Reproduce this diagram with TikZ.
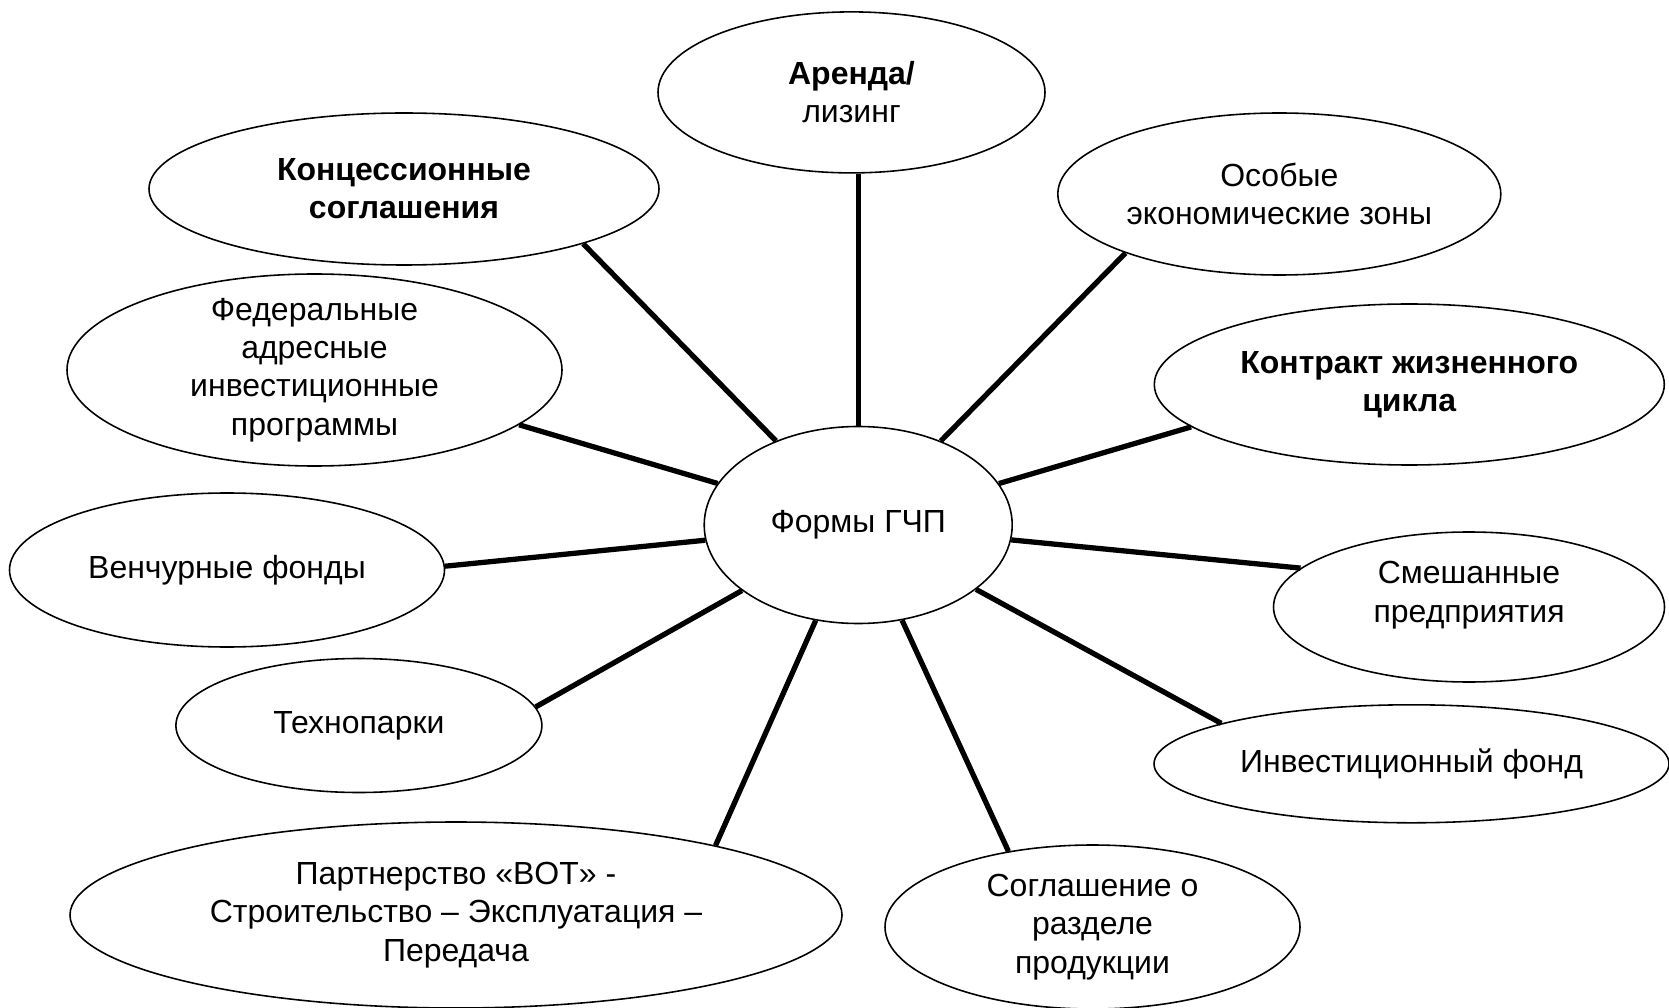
\documentclass[tikz,border=0pt]{standalone}
\usepackage{fontspec}
\setmainfont{Liberation Sans}
\usetikzlibrary{shapes.geometric}
\begin{document}
\begin{tikzpicture}[
    form/.style={draw=black, line width=0.45pt, ellipse, inner sep=0pt, align=center,
      font=\fontsize{9.1}{10.9}\selectfont},
    spoke/.style={black, line width=1.5pt}]
    \useasboundingbox (0,0) rectangle (16.69,10.07);
    % hub
    \node[form, minimum width=3.08cm, minimum height=1.97cm] (hub) at (8.582,4.82) {Формы ГЧП};
    % forms around the hub
    \node[form, minimum width=3.87cm, minimum height=1.61cm] (arenda) at (8.515,9.146) {\textbf{Аренда/}\\лизинг};
    \node[form, minimum width=5.10cm, minimum height=1.52cm] (konc) at (4.04,8.18) {\textbf{Концессионные}\\\textbf{соглашения}};
    \node[form, minimum width=4.43cm, minimum height=1.62cm] (osz) at (12.793,8.13) {Особые\\экономические зоны};
    \node[form, minimum width=4.95cm, minimum height=1.92cm, inner ysep=-3.5pt] (fed) at (3.145,6.37) {Федеральные\\адресные\\инвестиционные\\программы};
    \node[form, minimum width=5.10cm, minimum height=1.61cm] (kzc) at (14.093,6.225) {\textbf{Контракт жизненного}\\\textbf{цикла}};
    \node[form, minimum width=4.35cm, minimum height=1.54cm] (vf) at (2.27,4.37) {Венчурные фонды};
    \node[form, minimum width=3.91cm, minimum height=1.50cm] (smp) at (14.69,4.00) {\raisebox{3.3pt}[\height][\depth]{\begin{tabular}{@{}c@{}}Смешанные\\предприятия\end{tabular}}};
    \node[form, minimum width=3.66cm, minimum height=1.34cm] (tp) at (3.589,2.815) {Технопарки};
    \node[form, minimum width=5.15cm, minimum height=1.18cm] (inf) at (14.115,2.432) {Инвестиционный фонд};
    \node[form, minimum width=7.72cm, minimum height=1.86cm] (bot) at (4.56,0.92) {Партнерство «BOT» -\\Строительство – Эксплуатация –\\Передача};
    \node[form, minimum width=4.15cm, minimum height=1.64cm] (srp) at (10.925,0.80) {Соглашение о\\разделе\\продукции};
    % spokes
    \draw[spoke] (hub.north) -- (arenda.south -| hub);
    \draw[spoke] (konc.-17.6) -- (hub);
    \draw[spoke] (osz.201.3) -- (hub);
    \draw[spoke] (fed.-15) -- (hub);
    \draw[spoke] (kzc.191.4) -- (hub);
    \draw[spoke] (vf.1.3) -- (hub);
    \draw[spoke] (smp.167.5) -- (hub);
    \draw[spoke] (tp.6.1) -- (hub);
    \draw[spoke] (inf.168.4) -- (hub);
    \draw[spoke] (bot.15.3) -- (hub);
    \draw[spoke] (srp.138.7) -- (hub);
\end{tikzpicture}
\end{document}
